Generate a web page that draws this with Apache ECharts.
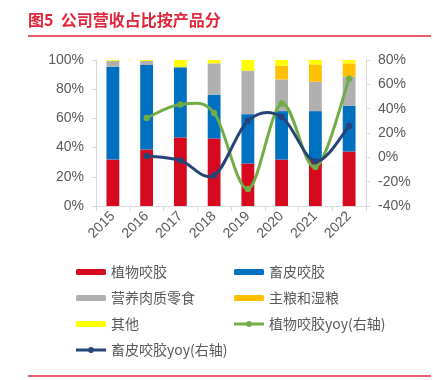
<!DOCTYPE html>
<html><head><meta charset="utf-8">
<script src="https://cdn.jsdelivr.net/npm/echarts@6/dist/echarts.min.js"></script>
<style>html,body{margin:0;padding:0;background:#fff}#c{width:433px;height:380px}</style>
</head><body><div id="c"></div>
<script>
const years = ['2015','2016','2017','2018','2019','2020','2021','2022'];
const plantChew = [31.8, 38.7, 46.9, 46.2, 29.1, 31.8, 30.9, 37.3];
const hideChew = [63.6, 57.9, 48.1, 30.0, 33.8, 33.2, 34.1, 31.3];
const meatSnack = [4.1, 2.7, 0, 21.5, 29.8, 21.7, 20.1, 20.0];
const stapleFood = [0, 0, 0, 0, 0, 9.4, 11.9, 9.1];
const others = [0.5, 0.7, 5.0, 2.3, 7.3, 3.9, 3.0, 2.3];
const plantYoy = [null, 32.4, 43.4, 36.5, -26.0, 44.2, -8.0, 64.6];
const hideYoy = [null, 1.1, -2.5, -14.8, 30.0, 33.2, -3.3, 25.8];
const leftTicks = {min: 0, max: 100, interval: 20};
const rightTicks = {min: -40, max: 80, interval: 20};

const font = 'Arial, "Liberation Sans", "Noto Sans CJK SC", sans-serif';
const cjk = '"Noto Sans CJK SC", sans-serif';
const txt = '#595959';
const chart = echarts.init(document.getElementById('c'));
const lineIcon = 'path://M0,1.6H12.5V4.4H0Z M17.5,1.6H30V4.4H17.5Z M12,3A3,3 0 1,1 18,3A3,3 0 1,1 12,3Z';

function bar(name, data, color) {
  return {name, type: 'bar', stack: 's', data, barWidth: '38%', itemStyle: {color}, emphasis: {disabled: true}};
}
// Excel-style smoothed line (cardinal spline) drawn through axis coordinates
function smoothLine(name, values, color) {
  const data = values.map((v, i) => [i, v]).filter(d => d[1] != null);
  return {
    name, type: 'custom', yAxisIndex: 1, data, z: 5,
    itemStyle: {color},
    encode: {x: 0, y: 1},
    renderItem: function (params, api) {
      const children = [];
      if (params.dataIndex === 0) {
        const pts = data.map(d => api.coord(d));
        let path = 'M' + pts[0][0] + ',' + pts[0][1];
        for (let i = 0; i < pts.length - 1; i++) {
          const p0 = pts[Math.max(i - 1, 0)], p1 = pts[i], p2 = pts[i + 1], p3 = pts[Math.min(i + 2, pts.length - 1)];
          const c1 = [p1[0] + (p2[0] - p0[0]) / 6, p1[1] + (p2[1] - p0[1]) / 6];
          const c2 = [p2[0] - (p3[0] - p1[0]) / 6, p2[1] - (p3[1] - p1[1]) / 6];
          path += ' C' + c1[0] + ',' + c1[1] + ' ' + c2[0] + ',' + c2[1] + ' ' + p2[0] + ',' + p2[1];
        }
        children.push({type: 'path', shape: {pathData: path}, style: {fill: 'none', stroke: color, lineWidth: 3, lineJoin: 'round'}});
      }
      const c = api.coord([api.value(0), api.value(1)]);
      children.push({type: 'circle', shape: {cx: c[0], cy: c[1], r: 3.2}, style: {fill: color}, z2: 10});
      return {type: 'group', children};
    }
  };
}
function leg(name, left, top, icon) {
  const item = icon ? {name, icon} : name;
  return {data: [item], left, top, itemWidth: 30, itemHeight: 6, itemGap: 0, padding: 0,
    textStyle: {color: txt, fontSize: 14, fontFamily: cjk}, selectedMode: false};
}
chart.setOption({
  animation: false,
  grid: {left: 96, right: 67, top: 60, bottom: 174, containLabel: false},
  graphic: [
    {type: 'text', left: 28, top: 12, style: {text: '图5  公司营收占比按产品分', fill: '#E0263A', font: 'bold 16px ' + cjk}},
    {type: 'line', shape: {x1: 28, y1: 36, x2: 431, y2: 36}, style: {stroke: '#E0263A', lineWidth: 1.5}},
    {type: 'line', shape: {x1: 28, y1: 376, x2: 431, y2: 376}, style: {stroke: '#E0263A', lineWidth: 1.5}}
  ],
  legend: [
    leg('植物咬胶', 76, 265), leg('畜皮咬胶', 234, 265),
    leg('营养肉质零食', 76, 291), leg('主粮和湿粮', 234, 291),
    leg('其他', 76, 317), leg('植物咬胶yoy(右轴)', 234, 317, lineIcon),
    leg('畜皮咬胶yoy(右轴)', 76, 343, lineIcon)
  ],
  xAxis: {type: 'category', data: years,
    axisLine: {lineStyle: {color: '#D9D9D9'}},
    axisTick: {show: true, alignWithLabel: false, length: 5, lineStyle: {color: '#D9D9D9'}},
    axisLabel: {rotate: 45, color: txt, fontSize: 14, fontFamily: font, margin: 8}},
  yAxis: [
    {type: 'value', ...leftTicks, splitLine: {show: false},
      axisLine: {show: true, lineStyle: {color: '#D9D9D9'}},
      axisTick: {show: true, length: 4, lineStyle: {color: '#D9D9D9'}},
      axisLabel: {formatter: '{value}%', color: txt, fontSize: 14, fontFamily: font, margin: 12}},
    {type: 'value', ...rightTicks, splitLine: {show: false},
      axisLine: {show: true, lineStyle: {color: '#D9D9D9'}},
      axisTick: {show: true, length: 4, lineStyle: {color: '#D9D9D9'}},
      axisLabel: {formatter: '{value}%', color: txt, fontSize: 14, fontFamily: font, margin: 12}}
  ],
  series: [
    bar('植物咬胶', plantChew, '#D7091F'),
    bar('畜皮咬胶', hideChew, '#0070C0'),
    bar('营养肉质零食', meatSnack, '#B0B0B0'),
    bar('主粮和湿粮', stapleFood, '#FFC000'),
    bar('其他', others, '#FFFF00'),
    smoothLine('植物咬胶yoy(右轴)', plantYoy, '#70AD47'),
    smoothLine('畜皮咬胶yoy(右轴)', hideYoy, '#264478')
  ]
});
</script></body></html>
